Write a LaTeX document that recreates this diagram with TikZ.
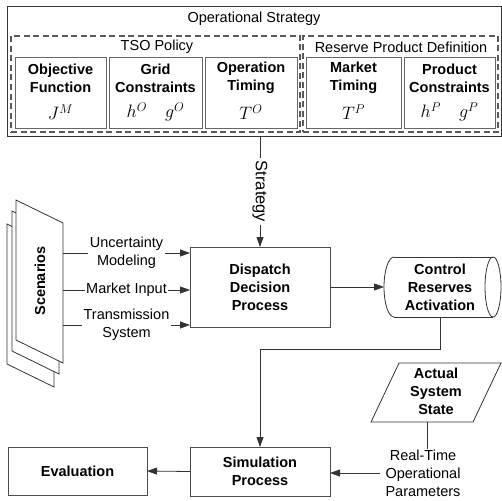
\RequirePackage{fix-cm}
\documentclass[tikz,border=0pt]{standalone}
\usepackage{fontspec}
\setmainfont{Liberation Sans}
\usetikzlibrary{arrows.meta}
\begin{document}
\begin{tikzpicture}[x=1pt,y=-1pt,
  every node/.style={font=\fontsize{14.5}{18}\selectfont, outer sep=0pt},
  outerbox/.style={draw=black!80, line width=0.9pt, inner sep=0pt},
  dashbox/.style={draw=black!65, line width=1.2pt, dash pattern=on 6pt off 3.5pt, inner sep=0pt},
  innerbox/.style={draw=black!60, line width=0.8pt, inner sep=0pt, minimum height=71pt},
  procbox/.style={draw=black!70, line width=0.8pt, align=center, font=\fontsize{14.5}{18}\selectfont\bfseries},
  bt/.style={align=center, font=\fontsize{14.5}{18}\selectfont\bfseries},
  mt/.style={font=\fontsize{18}{21}\selectfont},
  lbl/.style={fill=white, align=center, inner sep=1.5pt},
  ln/.style={draw=black!80, line width=0.8pt},
  arr/.style={ln, -{Triangle[length=10pt,width=7pt]}}
]
\useasboundingbox (0,0) rectangle (502,500);

% ---------- Operational strategy ----------
\node[outerbox, minimum width=494pt, minimum height=130pt] (strat) at (254,71) {};
\node (stratT) at (254,19) {Operational Strategy};
\node[dashbox, minimum width=289pt, minimum height=96pt] (tso) at (155.5,84) {};
\node (tsoT) at (157,47) {TSO Policy};
\node[dashbox, minimum width=195pt, minimum height=96pt] (rpd) at (400.5,84) {};
\node (rpdT) at (401,47) {Reserve Product Definition};

\node[innerbox, minimum width=91pt] (b1) at (60.5,92.5) {};
\node[innerbox, minimum width=93pt] (b2) at (155.5,92.5) {};
\node[innerbox, minimum width=92pt] (b3) at (251,92.5) {};
\node[innerbox, minimum width=95pt] (b4) at (353.5,92.5) {};
\node[innerbox, minimum width=91pt] (b5) at (449.5,92.5) {};

\node[bt] (b1t) at (60.5,78) {Objective\\Function};
\node[bt] (b2t) at (155.5,78) {Grid\\Constraints};
\node[bt] (b3t) at (251,78) {Operation\\Timing};
\node[bt] (b4t) at (353.5,78) {Market\\Timing};
\node[bt] (b5t) at (449.5,78) {Product\\Constraints};

\node[mt] (b1m) at (60.5,112) {$J^M$};
\node[mt] (b2m) at (155.5,112) {$h^O\hskip 18pt g^O$};
\node[mt] (b3m) at (251,112) {$T^O$};
\node[mt] (b4m) at (353.5,112) {$T^P$};
\node[mt] (b5m) at (449.5,112) {$h^P\hskip 18pt g^P$};

% ---------- Dispatch ----------
\node[procbox, minimum width=140pt, minimum height=80pt] (disp) at (260,287) {Dispatch\\Decision\\Process};
\draw[arr] (disp.north |- strat.south) -- node[fill=white, rotate=-90, inner sep=3pt, font=\fontsize{16.5}{19}\selectfont] (stratL) {Strategy} (disp.north);

% ---------- Scenarios (stacked pages) ----------
\draw[ln, fill=white] (7,224) -- (54,247) -- (54,387) -- (7,364) -- cycle;
\draw[ln, fill=white] (12,211) -- (59,234) -- (59,374) -- (12,351) -- cycle;
\draw[ln, fill=white] (16,200) -- (63,223) -- (63,363) -- (16,340) -- cycle;
\node[minimum width=47pt, minimum height=163pt, inner sep=0pt] (page) at (39.5,281.5) {};
\node[bt, rotate=90] (scenT) at (40,281) {Scenarios};

\coordinate (y1) at (0,253);
\coordinate (y2) at (0,290);
\coordinate (y3) at (0,325);
\draw[arr] (page.east |- y1) -- node[lbl] (l1) {Uncertainty\\Modeling} (disp.west |- y1);
\draw[arr] (page.east |- y2) -- node[lbl] (l2) {Market Input} (disp.west |- y2);
\draw[arr] (page.east |- y3) -- node[lbl] (l3) {Transmission\\System} (disp.west |- y3);

% ---------- Control reserves activation (cylinder) ----------
\node[bt, minimum width=112pt, minimum height=60pt, inner sep=0pt] (ctrl) at (440,287) {Control\\Reserves\\Activation};
\draw[ln] (394,257) -- (493,257) (394,317) -- (493,317);
\draw[ln] (394,257) arc[start angle=90, end angle=270, x radius=10pt, y radius=30pt];
\draw[ln] (493,287) ellipse[x radius=8pt, y radius=30pt];
\draw[arr] (disp.east) -- (ctrl.west);

% ---------- Simulation / Evaluation ----------
\node[procbox, minimum width=140pt, minimum height=49pt] (sim) at (260,471.5) {Simulation\\Process};
\node[procbox, minimum width=139pt, minimum height=48pt] (eval) at (77.5,471) {Evaluation};
\draw[arr] (ctrl.south) -- ++(0,32) -| (sim.north);
\draw[arr] (sim.west) -- (eval.east);

% ---------- Actual system state ----------
\draw[ln] (399,363) -- (501,363) -- (473,422) -- (371,422) -- cycle;
\node[bt] (state) at (436,391) {Actual\\System\\State};
\coordinate (stb) at (427,422);
\node[align=center, inner xsep=6pt, inner ysep=1pt] (rtp) at (423,473) {Real-Time\\Operational\\Parameters};
\draw[ln] (stb) -- (stb |- rtp.north);
\draw[arr] (rtp.west) -- (sim.east |- rtp.west);
\end{tikzpicture}
\end{document}
